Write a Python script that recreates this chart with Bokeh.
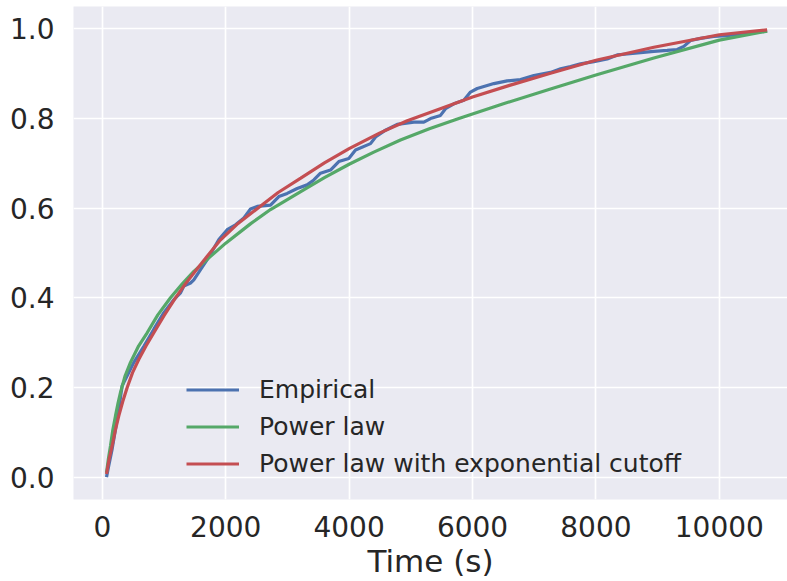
from bokeh.plotting import figure
from bokeh.models import Range1d, FixedTicker, PrintfTickFormatter, Legend, LegendItem
from bokeh.embed import file_html
from bokeh.resources import INLINE

# Empirical CDF
emp_t = [68, 105, 160, 214, 268, 306, 322, 403, 511, 673, 835, 997, 1159, 1268, 1321, 1430, 1483,
         1592, 1700, 1889, 2024, 2159, 2294, 2402, 2510, 2726, 2861, 2996, 3158, 3320, 3428, 3536,
         3698, 3833, 3995, 4104, 4347, 4428, 4590, 4779, 5049, 5211, 5319, 5481, 5562, 5697, 5859,
         5967, 6076, 6346, 6562, 6778, 6994, 7264, 7427, 7589, 7751, 7967, 8183, 8345, 8507, 8723,
         8939, 9155, 9317, 9425, 9533, 9695, 9911, 10127, 10343, 10559, 10775]
emp_y = [0.0, 0.026, 0.063, 0.107, 0.152, 0.189, 0.204, 0.226, 0.256, 0.292, 0.330, 0.367, 0.396,
         0.411, 0.426, 0.433, 0.440, 0.463, 0.485, 0.530, 0.552, 0.563, 0.578, 0.598, 0.604, 0.607,
         0.626, 0.633, 0.644, 0.652, 0.663, 0.678, 0.685, 0.704, 0.711, 0.730, 0.744, 0.759, 0.774,
         0.787, 0.792, 0.792, 0.800, 0.807, 0.822, 0.833, 0.841, 0.859, 0.867, 0.878, 0.884, 0.887,
         0.896, 0.903, 0.911, 0.916, 0.922, 0.927, 0.933, 0.942, 0.944, 0.947, 0.950, 0.952, 0.954,
         0.961, 0.974, 0.979, 0.983, 0.985, 0.989, 0.992, 0.995]

# Power law fit
pl_t = [68, 100, 133, 170, 214, 255, 295, 370, 457, 590, 727, 900, 1105, 1300, 1483, 1750, 2000,
        2400, 2726, 3216, 3600, 4000, 4400, 4832, 5300, 5779, 6500, 7264, 8000, 8939, 10000, 10775]
pl_y = [0.010, 0.042, 0.070, 0.105, 0.137, 0.165, 0.189, 0.226, 0.256, 0.293, 0.322, 0.362,
        0.400, 0.432, 0.459, 0.492, 0.522, 0.565, 0.597, 0.637, 0.668, 0.698, 0.725, 0.752,
        0.777, 0.800, 0.833, 0.866, 0.897, 0.935, 0.975, 0.995]

# Power law with exponential cutoff fit
plc_t = [68, 110, 160, 210, 268, 330, 403, 490, 592, 710, 835, 1000, 1186, 1340, 1500, 1700, 1900,
         2200, 2520, 2850, 3216, 3600, 4000, 4500, 4942, 5500, 6000, 6600, 7264, 8000, 8939,
         10000, 10775]
plc_y = [0.007, 0.040, 0.070, 0.104, 0.137, 0.168, 0.200, 0.233, 0.263, 0.293, 0.322, 0.360,
         0.400, 0.430, 0.458, 0.493, 0.527, 0.566, 0.600, 0.635, 0.667, 0.701, 0.733, 0.768,
         0.795, 0.823, 0.848, 0.874, 0.901, 0.930, 0.959, 0.987, 0.998]

x_ticks = [0, 2000, 4000, 6000, 8000, 10000]
y_ticks = [0.0, 0.2, 0.4, 0.6, 0.8, 1.0]

FONT = "DejaVu Sans"
TXT = "#262626"

p = figure(width=787, height=581, output_backend="svg", toolbar_location=None,
           x_range=Range1d(-467, 11105), y_range=Range1d(-0.05, 1.05),
           min_border_left=73, min_border_right=0, min_border_top=6, min_border_bottom=80)
p.background_fill_color = "#EAEAF2"
p.border_fill_color = "white"
p.outline_line_color = None

for g in (p.xgrid, p.ygrid):
    g.grid_line_color = "white"
    g.grid_line_width = 1.7
p.xaxis.ticker = FixedTicker(ticks=x_ticks)
p.yaxis.ticker = FixedTicker(ticks=y_ticks)
p.xgrid.ticker = FixedTicker(ticks=x_ticks)
p.ygrid.ticker = FixedTicker(ticks=y_ticks)
p.xaxis.formatter = PrintfTickFormatter(format="%d")
p.yaxis.formatter = PrintfTickFormatter(format="%.1f")

for ax in (p.xaxis, p.yaxis):
    ax.axis_line_color = None
    ax.major_tick_line_color = None
    ax.minor_tick_line_color = None
    ax.major_label_text_font = FONT
    ax.major_label_text_font_size = "28px"
    ax.major_label_text_color = TXT
p.xaxis.major_label_standoff = 10
p.yaxis.major_label_standoff = 13
p.xaxis.axis_label = "Time (s)"
p.xaxis.axis_label_text_font = FONT
p.xaxis.axis_label_text_font_size = "31px"
p.xaxis.axis_label_text_font_style = "normal"
p.xaxis.axis_label_text_color = TXT
p.xaxis.axis_label_standoff = 3

r1 = p.line(emp_t, emp_y, line_color="#4C72B0", line_width=3.2)
r2 = p.line(pl_t, pl_y, line_color="#55A868", line_width=3.2)
r3 = p.line(plc_t, plc_y, line_color="#C44E52", line_width=3.2)

legend = Legend(items=[LegendItem(label="Empirical", renderers=[r1]),
                       LegendItem(label="Power law", renderers=[r2]),
                       LegendItem(label="Power law with exponential cutoff", renderers=[r3])],
                location=(113, 17))
legend.background_fill_alpha = 0
legend.border_line_color = None
legend.padding = 0
legend.margin = 0
legend.spacing = 0
legend.glyph_width = 53
legend.glyph_height = 37
legend.label_height = 37
legend.label_standoff = 20
legend.label_text_font = FONT
legend.label_text_font_size = "25px"
legend.label_text_color = TXT
p.add_layout(legend)

open("out.html", "w").write(file_html(p, INLINE))
